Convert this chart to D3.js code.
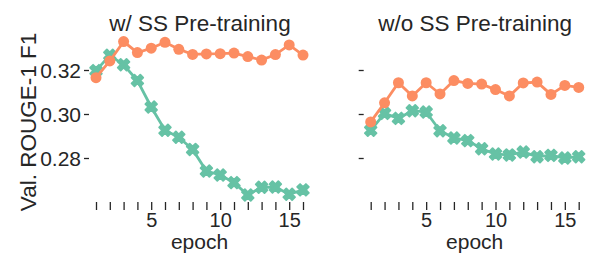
<!DOCTYPE html>
<html>
<head>
<meta charset="utf-8">
<script src="https://cdn.jsdelivr.net/npm/d3@7"></script>
<style>
  body { margin: 0; background: #fff; }
  text { font-family: "Liberation Sans", Arial, sans-serif; fill: #262626; }
</style>
</head>
<body>
<div id="chart"></div>
<script>
// data
var epochs = d3.range(1, 17);
var titles = ["w/ SS Pre-training", "w/o SS Pre-training"];
var yTicks = [0.28, 0.30, 0.32];
var xTickLabels = [5, 10, 15];

var withSS_orange = [0.3165, 0.3241, 0.3329, 0.3279, 0.3299, 0.3326, 0.3294, 0.3271,
                     0.3273, 0.3274, 0.3277, 0.3261, 0.3245, 0.3270, 0.3314, 0.3268];
var withSS_green  = [0.3197, 0.3267, 0.3224, 0.3152, 0.3032, 0.2926, 0.2894, 0.2839,
                     0.2741, 0.2723, 0.2688, 0.2632, 0.2667, 0.2668, 0.2635, 0.2655];
var noSS_orange   = [0.2964, 0.3051, 0.3142, 0.3082, 0.3142, 0.3091, 0.3152, 0.3139,
                     0.3136, 0.3111, 0.3082, 0.3141, 0.3145, 0.3089, 0.3130, 0.3121];
var noSS_green    = [0.2926, 0.3003, 0.2980, 0.3015, 0.3009, 0.2924, 0.2891, 0.2879,
                     0.2842, 0.2818, 0.2814, 0.2827, 0.2806, 0.2812, 0.2800, 0.2806];

var orange = "#fc8d62", green = "#66c2a5";

var panels = [
  {title: titles[0], x0: 96, x1: 303, green: withSS_green, orange: withSS_orange, labels: true},
  {title: titles[1], x0: 370.7, x1: 578.7, green: noSS_green, orange: noSS_orange, labels: false}
];

var svg = d3.select("#chart").append("svg")
  .attr("width", 592).attr("height", 255);

var y = d3.scaleLinear().domain([0.26, 0.34]).range([202, 26]);

panels.forEach(function(p) {
  var x = d3.scaleLinear().domain([1, 16]).range([p.x0, p.x1]);
  var g = svg.append("g");

  // y ticks
  var yAxis = d3.axisLeft(y).tickValues(yTicks).tickSize(5).tickPadding(3)
    .tickFormat(p.labels ? d3.format(".2f") : "");
  var ya = g.append("g").attr("transform", "translate(" + (p.x0 - 7) + ",0)").call(yAxis);
  ya.select(".domain").remove();
  ya.selectAll("line").attr("stroke", "#262626").attr("stroke-width", 1.3);
  ya.selectAll("text").style("font-size", "21px").attr("fill", "#262626")
    .attr("dy", "0.36em");

  // x ticks, one per epoch, labels at 5/10/15
  var xAxis = d3.axisBottom(x).tickValues(epochs).tickSize(8).tickPadding(3)
    .tickFormat(function(d) { return xTickLabels.indexOf(d) >= 0 ? d : ""; });
  var xa = g.append("g").attr("transform", "translate(0,202)").call(xAxis);
  xa.select(".domain").remove();
  xa.selectAll("line").attr("stroke", "#262626").attr("stroke-width", 1.3);
  xa.selectAll("text").style("font-size", "20px").attr("fill", "#262626");

  g.append("text").attr("x", (p.x0 + p.x1) / 2).attr("y", 249)
    .attr("text-anchor", "middle").style("font-size", "21px").text("epoch");

  g.append("text").attr("x", (p.x0 + p.x1) / 2 + 0.5).attr("y", 31)
    .attr("text-anchor", "middle").style("font-size", "22.5px").text(p.title);

  var line = d3.line().x(function(d, i) { return x(epochs[i]); }).y(function(d) { return y(d); });

  // green series with filled X markers
  g.append("path").datum(p.green).attr("d", line)
    .attr("fill", "none").attr("stroke", green).attr("stroke-width", 2.8);
  g.selectAll(".gm").data(p.green).enter().append("path")
    .attr("d", d3.symbol().type(d3.symbolCross).size(85)())
    .attr("transform", function(d, i) { return "translate(" + x(epochs[i]) + "," + y(d) + ") rotate(45)"; })
    .attr("fill", green).attr("stroke", green).attr("stroke-width", 1.8)
    .attr("stroke-linejoin", "round");

  // orange series with circles
  g.append("path").datum(p.orange).attr("d", line)
    .attr("fill", "none").attr("stroke", orange).attr("stroke-width", 2.8);
  g.selectAll(".om").data(p.orange).enter().append("circle")
    .attr("cx", function(d, i) { return x(epochs[i]); })
    .attr("cy", function(d) { return y(d); })
    .attr("r", 5.5).attr("fill", orange);
});

svg.append("text")
  .attr("transform", "translate(36,122) rotate(-90)")
  .attr("text-anchor", "middle").style("font-size", "22.5px")
  .text("Val. ROUGE-1 F1");
</script>
</body>
</html>
